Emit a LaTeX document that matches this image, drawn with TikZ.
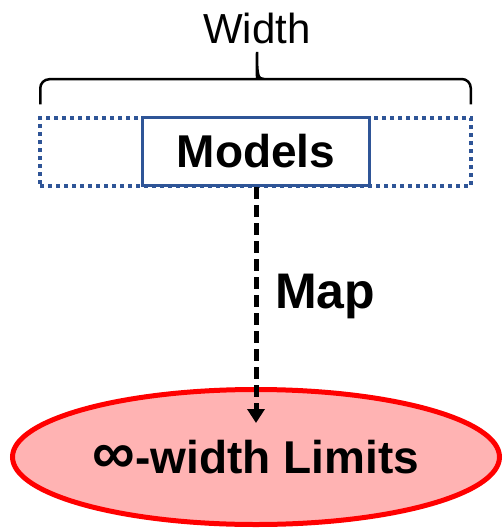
\documentclass[tikz,border=0pt]{standalone}
\usepackage{fontspec}
\setmainfont{Liberation Sans}
\usepackage{graphicx}
\usepackage{tikz}
\usetikzlibrary{positioning,arrows.meta,shapes.geometric,calc}
\definecolor{boxblue}{HTML}{2F5597}
\definecolor{limitfill}{HTML}{FFB3B3}
\tikzset{
  widthbox/.style  = {draw=boxblue, line width=3.5pt, dash pattern=on 4pt off 4pt,
                      minimum width=431pt, minimum height=68pt, inner sep=0pt},
  modelbox/.style  = {draw=boxblue, line width=3pt, fill=white, minimum width=227pt,
                      minimum height=68pt, inner sep=0pt,
                      font=\fontsize{46}{50}\selectfont\bfseries},
  limitnode/.style = {ellipse, draw=red, line width=5pt, fill=limitfill,
                      minimum width=487pt, minimum height=135pt, inner sep=0pt,
                      font=\fontsize{46}{50}\selectfont\bfseries},
  label/.style     = {inner sep=0pt},
  brace/.style     = {line width=2.5pt},
  maparrow/.style  = {-{Triangle[width=17pt,length=14pt]}, line width=5pt,
                      dash pattern=on 12pt off 6pt},
}
\begin{document}
\begin{tikzpicture}[x=1pt,y=1pt]
  \useasboundingbox (0,0) rectangle (503,-530);

  \node[widthbox]  (wide)   at (255.5,-152) {};
  \node[modelbox]  (models) at (256,-151.5) {Models};
  \node[limitnode] (limits) at (256,-457) {\scalebox{1.3}{∞}-width Limits};

  % brace over the dotted box
  \coordinate (bl) at ($(wide.north west)+(2,12)$);
  \coordinate (br) at ($(wide.north east)+(-2,12)$);
  \draw[brace] (bl) [rounded corners=9pt] -- ++(0,25) -- (250,-79) [sharp corners]
    .. controls (256,-79) and (257,-76) .. (257,-52)
    .. controls (257,-76) and (258,-79) .. (264,-79) [rounded corners=9pt]
    -- (br |- 0,-79) -- (br);
  \node[label, anchor=base, font=\fontsize{42}{46}\selectfont] (wlabel) at (257,-43) {Width};

  \draw[maparrow, shorten >=34pt] (models.south) -- (models.south |- limits.center);
  \node[label, anchor=base west, font=\fontsize{50}{54}\selectfont\bfseries] (map) at (275,-308) {Map};
\end{tikzpicture}
\end{document}
